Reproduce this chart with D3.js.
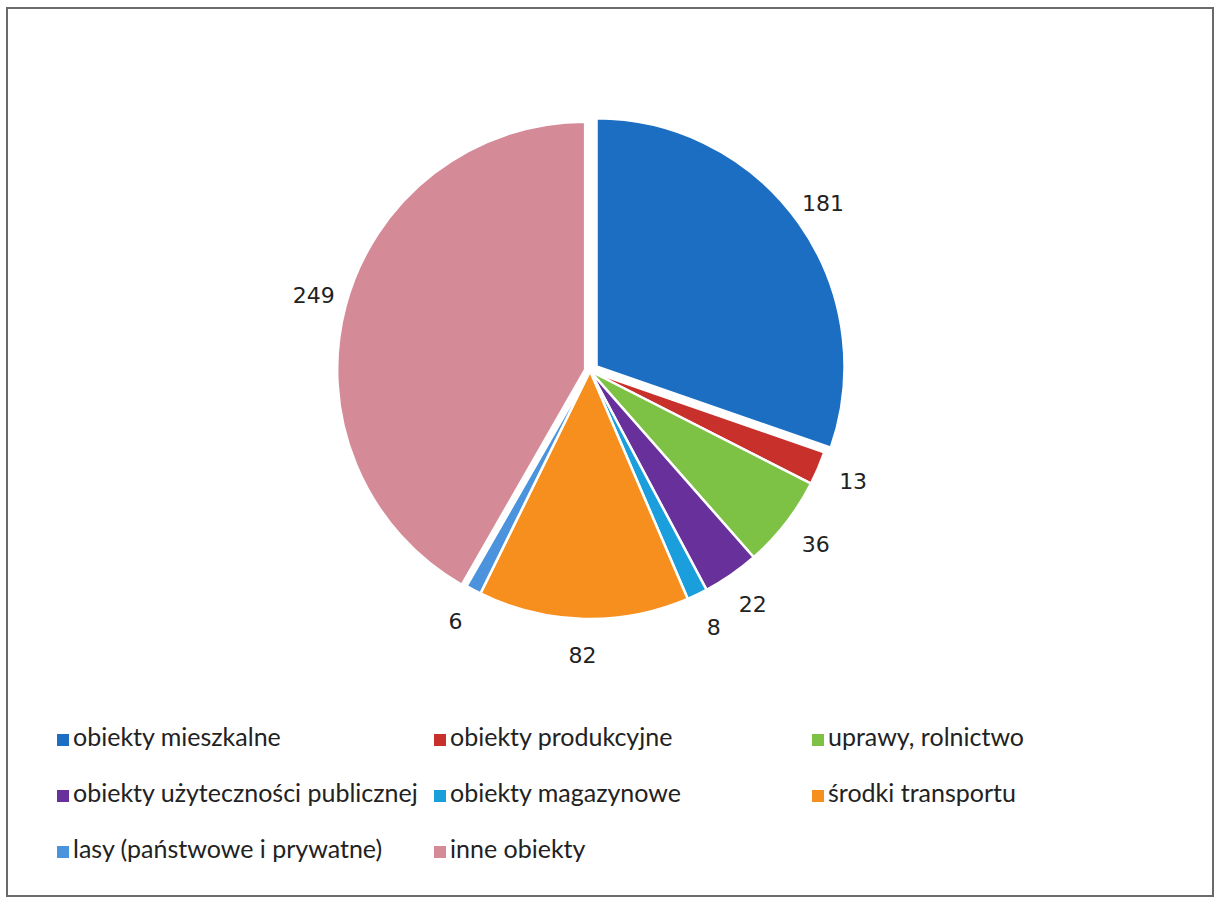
<!DOCTYPE html>
<html>
<head>
<meta charset="utf-8">
<title></title>
<script src='https://d3js.org/d3.v7.min.js'></script>
<style>
 body {margin:0; background:#fff;}
 text {font-family: Lato, "Open Sans", sans-serif; fill:#222;}
</style>
</head>
<body>
<svg width=1217 height=899></svg>
<script>
// data
var categories = ["obiekty mieszkalne","obiekty produkcyjne","uprawy, rolnictwo",
  "obiekty użyteczności publicznej","obiekty magazynowe","środki transportu",
  "lasy (państwowe i prywatne)","inne obiekty"];
var values = [181, 13, 36, 22, 8, 82, 6, 249];
var colors = ["#1b6ec2","#c8302c","#7ec245","#67309a","#1a9fdc","#f78f1e","#4b93dc","#d58b97"];
// slices pulled out a little from the centre
var explode = [8, 0, 0, 0, 0, 0, 0, 5];

var svg = d3.select("svg");
var cx = 590, cy = 371, r = 248;

// outer frame
svg.append("rect")
  .attr("x",7).attr("y",8).attr("width",1206).attr("height",888)
  .attr("fill","none").attr("stroke","#6a6a6a").attr("stroke-width",2);

var pie = d3.pie().sort(null).value(function(d){ return d; });
var arcs = pie(values);
var arc = d3.arc().innerRadius(0).outerRadius(r);
var labelArc = d3.arc().innerRadius(286).outerRadius(286);

var g = svg.append("g").attr("transform","translate("+cx+","+cy+")");

g.selectAll("path")
  .data(arcs)
  .enter().append("path")
  .attr("d", arc)
  .attr("fill", function(d,i){ return colors[i]; })
  .attr("stroke","#fff").attr("stroke-width",2.5)
  .attr("transform", function(d,i){
     var a = (d.startAngle+d.endAngle)/2;
     return "translate("+(Math.sin(a)*explode[i])+","+(-Math.cos(a)*explode[i])+")";
  });

g.selectAll("text.lbl")
  .data(arcs)
  .enter().append("text")
  .attr("class","lbl")
  .attr("x", function(d){ return labelArc.centroid(d)[0]; })
  .attr("y", function(d){ return labelArc.centroid(d)[1]; })
  .attr("text-anchor","middle")
  .attr("dominant-baseline","middle")
  .style("font-size","22px")
  .style("font-family","'DejaVu Sans', sans-serif")
  .text(function(d){ return d.data; });

// legend, 3 columns
var colX = [57, 434, 812], rowY = [740, 796, 852];
var leg = svg.append("g");
categories.forEach(function(c,i){
  var x = colX[i%3], y = rowY[Math.floor(i/3)];
  leg.append("rect").attr("x",x).attr("y",y-6).attr("width",12).attr("height",12)
     .attr("fill",colors[i]);
  leg.append("text").attr("x",x+16).attr("y",y).attr("dominant-baseline","middle")
     .style("font-size","25px").text(c);
});
</script>
</body>
</html>
